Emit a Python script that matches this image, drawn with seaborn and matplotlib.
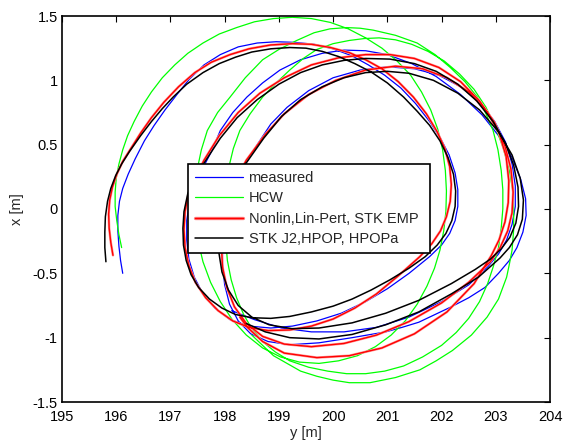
import numpy as np
import pandas as pd
import matplotlib
matplotlib.use("Agg")
import matplotlib.pyplot as plt
import matplotlib.patheffects as pe
import seaborn as sns

# Relative trajectories as (y [m], x [m]) pairs; each starts on the left and spirals clockwise
measured = np.array([
    (196.12,-0.50),(196.08,-0.40),(196.05,-0.29),(196.03,-0.17),(196.03,-0.05),(196.06,0.06),
    (196.12,0.16),(196.22,0.27),(196.35,0.39),(196.52,0.53),(196.70,0.65),(196.90,0.77),
    (197.12,0.89),(197.35,1.01),(197.62,1.12),(197.92,1.20),(198.25,1.26),(198.60,1.29),
    (198.95,1.30),(199.30,1.295),(199.65,1.28),(200.00,1.245),(200.35,1.19),(200.65,1.12),
    (200.95,1.04),(201.25,0.94),(201.52,0.82),(201.78,0.68),(201.98,0.55),(202.14,0.42),
    (202.25,0.28),(202.30,0.15),(202.30,0.02),(202.25,-0.09),(202.15,-0.19),(202.00,-0.28),
    (201.78,-0.37),(201.40,-0.50),(201.00,-0.62),(200.60,-0.72),(200.15,-0.81),(199.70,-0.87),
    (199.25,-0.91),(198.85,-0.925),(198.45,-0.91),(198.10,-0.86),(197.82,-0.77),(197.60,-0.66),
    (197.44,-0.53),(197.34,-0.39),(197.30,-0.24),(197.30,-0.09),(197.35,0.05),(197.45,0.18),
    (197.60,0.32),(197.76,0.45),(197.92,0.61),(198.15,0.75),(198.41,0.87),(198.70,0.98),
    (199.02,1.08),(199.40,1.16),(199.80,1.21),(200.20,1.235),(200.60,1.23),(201.00,1.20),
    (201.45,1.13),(201.90,1.03),(202.35,0.89),(202.75,0.73),(203.07,0.56),(203.30,0.40),
    (203.46,0.23),(203.55,0.08),(203.56,-0.05),(203.50,-0.18),(203.39,-0.30),(203.25,-0.40),
    (203.05,-0.50),(202.80,-0.61),(202.50,-0.69),(202.18,-0.76),(201.88,-0.82),(201.58,-0.88),
    (201.27,-0.92),(200.97,-0.955),(200.35,-1.00),(199.74,-1.04),
    (199.20,-1.055),(198.80,-1.03),(198.48,-0.97),(198.25,-0.87),(198.09,-0.74),(198.00,-0.59),
    (197.96,-0.43),(197.96,-0.26),(198.00,-0.10),(198.08,0.06),(198.20,0.20),(198.35,0.33),
    (198.60,0.50),(198.85,0.66),(199.15,0.79),(199.55,0.92),(200.00,1.02),(200.50,1.08),
    (201.00,1.105),(201.50,1.09),(201.95,1.04),(202.35,0.95),(202.70,0.83),(202.98,0.68),
    (203.18,0.52),(203.30,0.35),(203.36,0.18),(203.36,0.02),(203.30,-0.12),(203.20,-0.24),
    (203.05,-0.35),(202.85,-0.45),(202.50,-0.59),(202.00,-0.72),(201.40,-0.84),(200.80,-0.92),
    (200.20,-0.955),(199.60,-0.955),(199.05,-0.925),(198.55,-0.86),(198.13,-0.79),
])

hcw = np.array([
    (196.10,-0.30),(196.05,-0.20),(196.01,-0.09),(195.98,0.02),(195.98,0.13),(196.00,0.24),
    (196.05,0.35),(196.12,0.46),(196.21,0.57),(196.33,0.68),(196.48,0.80),(196.65,0.91),
    (196.85,1.02),(197.08,1.12),(197.32,1.21),(197.60,1.29),(197.90,1.36),(198.22,1.41),
    (198.55,1.455),(198.90,1.48),(199.25,1.49),(199.60,1.48),(199.95,1.45),(200.28,1.40),
    (200.60,1.33),(200.90,1.25),(201.18,1.15),(201.43,1.04),(201.63,0.91),(201.80,0.77),
    (201.93,0.62),(202.02,0.46),(202.07,0.30),(202.09,0.14),(202.08,-0.02),(202.04,-0.17),
    (201.97,-0.32),(201.87,-0.46),(201.73,-0.60),(201.55,-0.74),(201.33,-0.87),(201.07,-0.98),
    (200.78,-1.07),(200.45,-1.14),(200.10,-1.18),(199.74,-1.20),(199.38,-1.19),(199.03,-1.15),
    (198.70,-1.08),(198.40,-0.98),(198.14,-0.86),(197.92,-0.72),(197.74,-0.57),(197.60,-0.41),
    (197.51,-0.25),(197.46,-0.08),(197.45,0.10),(197.49,0.30),(197.57,0.46),(197.68,0.61),
    (197.87,0.75),(198.10,0.87),(198.38,1.02),(198.70,1.16),(199.00,1.24),(199.33,1.31),
    (199.65,1.37),(199.94,1.40),(200.25,1.41),(200.50,1.405),(200.74,1.39),(201.15,1.35),
    (201.55,1.29),(201.88,1.20),(202.16,1.10),(202.43,0.99),(202.66,0.87),(202.82,0.74),
    (202.95,0.61),(203.04,0.46),(203.10,0.30),(203.13,0.15),(203.13,0.00),(203.10,-0.15),
    (203.05,-0.30),(202.96,-0.44),(202.85,-0.58),(202.70,-0.72),(202.50,-0.85),(202.27,-0.96),
    (202.00,-1.06),(201.65,-1.15),(201.30,-1.22),(200.95,-1.26),(200.60,-1.28),(200.25,-1.28),
    (199.90,-1.26),(199.55,-1.23),(199.20,-1.18),(198.93,-1.11),(198.70,-1.03),(198.50,-0.93),
    (198.35,-0.82),(198.22,-0.69),(198.12,-0.55),(198.05,-0.40),(198.02,-0.25),(198.01,-0.10),
    (198.01,0.05),(198.04,0.19),(198.08,0.33),(198.16,0.47),(198.28,0.61),(198.47,0.74),
    (198.70,0.87),(198.95,0.98),(199.20,1.08),(199.45,1.17),(199.70,1.24),(200.00,1.285),
    (200.30,1.31),(200.58,1.325),(200.85,1.33),(201.15,1.315),(201.45,1.28),(201.75,1.225),
    (202.05,1.15),(202.33,1.05),(202.60,0.93),(202.82,0.79),(203.00,0.63),(203.14,0.47),
    (203.25,0.30),(203.31,0.15),(203.33,0.00),(203.33,-0.16),(203.30,-0.32),(203.25,-0.43),
    (203.20,-0.53),(203.05,-0.70),(202.84,-0.84),(202.55,-0.98),(202.20,-1.10),(201.90,-1.18),
    (201.60,-1.25),(201.15,-1.31),(200.68,-1.35),(200.30,-1.35),(200.00,-1.33),(199.70,-1.30),
    (199.40,-1.26),(199.15,-1.20),(198.90,-1.14),(198.70,-1.06),(198.50,-0.98),
])

nonlin = np.array([
    (195.94,-0.36),(195.90,-0.26),(195.87,-0.15),(195.86,-0.04),(195.88,0.07),(195.93,0.17),
    (196.01,0.27),(196.12,0.37),(196.27,0.47),(196.45,0.59),(196.65,0.71),(196.88,0.83),
    (197.15,0.95),(197.45,1.06),(197.75,1.14),(198.10,1.20),(198.45,1.245),(198.85,1.275),
    (199.25,1.285),(199.60,1.28),(199.95,1.255),(200.30,1.215),(200.60,1.16),(200.90,1.09),
    (201.20,0.99),(201.48,0.87),(201.72,0.74),(201.92,0.60),(202.06,0.47),(202.15,0.33),
    (202.18,0.19),(202.16,0.06),(202.09,-0.06),(201.98,-0.17),(201.82,-0.27),(201.60,-0.37),
    (201.20,-0.52),(200.80,-0.66),(200.40,-0.77),(200.00,-0.855),(199.60,-0.91),(199.20,-0.94),
    (198.80,-0.945),(198.45,-0.92),(198.15,-0.87),(197.88,-0.79),(197.65,-0.69),(197.46,-0.57),
    (197.34,-0.44),(197.27,-0.30),(197.25,-0.16),(197.27,-0.02),(197.33,0.11),(197.44,0.23),
    (197.62,0.38),(197.90,0.57),(198.25,0.75),(198.65,0.90),(199.10,1.02),(199.60,1.12),
    (200.10,1.175),(200.60,1.20),(201.05,1.20),(201.50,1.17),(201.95,1.10),(202.35,0.99),
    (202.70,0.84),(202.98,0.67),(203.17,0.49),(203.28,0.31),(203.32,0.13),(203.30,-0.03),
    (203.22,-0.17),(203.08,-0.30),(202.90,-0.41),(202.50,-0.57),(202.00,-0.73),(201.40,-0.875),
    (200.80,-0.98),(200.20,-1.045),(199.60,-1.07),(199.10,-1.05),(198.70,-0.99),(198.40,-0.89),
    (198.18,-0.76),(198.04,-0.61),(197.96,-0.45),(197.94,-0.28),(197.95,-0.10),(198.02,0.06),
    (198.15,0.19),(198.40,0.38),(198.75,0.58),(199.10,0.74),(199.55,0.89),(200.05,1.00),
    (200.60,1.08),(201.15,1.11),(201.65,1.09),(202.10,1.02),(202.50,0.91),(202.83,0.76),
    (203.06,0.59),(203.19,0.41),(203.24,0.22),(203.23,0.05),(203.17,-0.10),(203.06,-0.24),
    (202.92,-0.36),(202.60,-0.58),(202.10,-0.80),(201.50,-0.97),(200.90,-1.08),(200.30,-1.14),
    (199.70,-1.155),(199.10,-1.12),(198.70,-1.03),(198.42,-0.92),(198.28,-0.84),
])

stk_j2 = np.array([
    (195.81,-0.41),(195.79,-0.30),(195.79,-0.18),(195.80,-0.06),(195.84,0.06),(195.90,0.16),
    (195.99,0.26),(196.10,0.35),(196.25,0.45),(196.45,0.57),(196.65,0.68),(196.85,0.78),
    (197.05,0.87),(197.30,0.97),(197.60,1.06),(197.90,1.13),(198.20,1.18),(198.50,1.22),
    (198.85,1.245),(199.20,1.255),(199.50,1.25),(199.80,1.225),(200.10,1.185),(200.40,1.13),
    (200.70,1.065),(201.00,0.98),(201.30,0.87),(201.55,0.76),(201.78,0.65),(201.97,0.53),
    (202.12,0.40),(202.22,0.27),(202.26,0.14),(202.25,0.02),(202.19,-0.09),(202.08,-0.19),
    (201.92,-0.28),(201.70,-0.37),(201.40,-0.46),(201.05,-0.55),(200.70,-0.63),(200.35,-0.70),
    (200.00,-0.755),(199.60,-0.80),(199.20,-0.835),(198.85,-0.85),(198.50,-0.845),(198.20,-0.82),
    (197.95,-0.77),(197.72,-0.70),(197.52,-0.61),(197.38,-0.51),(197.29,-0.40),(197.24,-0.28),
    (197.23,-0.15),(197.25,-0.02),(197.32,0.12),(197.45,0.25),(197.64,0.37),(197.92,0.55),
    (198.23,0.71),(198.60,0.85),(199.00,0.97),(199.40,1.06),(199.80,1.12),(200.20,1.155),
    (200.60,1.17),(201.05,1.165),(201.50,1.13),(201.90,1.07),(202.30,0.97),(202.65,0.84),
    (202.95,0.68),(203.18,0.51),(203.33,0.34),(203.41,0.17),(203.42,0.02),(203.37,-0.11),
    (203.26,-0.22),(203.10,-0.31),(202.90,-0.39),(202.62,-0.47),(202.18,-0.58),(201.58,-0.71),
    (200.97,-0.81),(200.35,-0.885),(199.74,-0.925),(199.24,-0.93),(198.82,-0.90),(198.50,-0.84),
    (198.25,-0.75),(198.07,-0.63),(197.95,-0.49),(197.89,-0.33),(197.88,-0.15),(197.92,0.02),
    (198.05,0.17),(198.20,0.27),(198.41,0.365),(198.72,0.55),(199.05,0.72),(199.40,0.85),
    (199.80,0.95),(200.20,1.02),(200.60,1.06),(201.00,1.07),(201.40,1.055),(201.85,1.00),
    (202.30,0.90),(202.70,0.77),(203.05,0.60),(203.30,0.42),(203.45,0.24),(203.51,0.07),
    (203.49,-0.08),(203.40,-0.20),(203.25,-0.30),(203.08,-0.38),(202.68,-0.53),(202.18,-0.66),
    (201.58,-0.80),(200.97,-0.90),(200.35,-0.975),(199.74,-1.01),(199.20,-1.00),(198.75,-0.955),
    (198.40,-0.89),
])

series_labels = ["measured", "HCW", "Nonlin,Lin-Pert, STK EMP", "STK J2,HPOP, HPOPa"]
series_data = [measured, hcw, nonlin, stk_j2]
series_colors = ["#0000ff", "#00ff00", "#ff0000", "#000000"]
series_widths = [0.9, 0.9, 1.0, 1.1]

x_ticks = [195, 196, 197, 198, 199, 200, 201, 202, 203, 204]
y_ticks = [-1.5, -1, -0.5, 0, 0.5, 1, 1.5]
y_tick_labels = ["-1.5", "-1", "-0.5", "0", "0.5", "1", "1.5"]

sns.set_style("white")
plt.rcParams["font.family"] = ["Liberation Sans", "DejaVu Sans"]
plt.rcParams["axes.unicode_minus"] = False

fig = plt.figure(figsize=(5.65, 4.45), dpi=100)
ax = fig.add_axes([62 / 565, 43 / 445, 488 / 565, 386 / 445])

for data, lab, col, lw in zip(series_data, series_labels, series_colors, series_widths):
    df = pd.DataFrame({"y": data[:, 0], "x": data[:, 1]})
    sns.lineplot(data=df, x="y", y="x", sort=False, estimator=None,
                 color=col, linewidth=lw, label=lab, ax=ax)

# the three near-coincident red solutions read as a red core with a pink fringe
red_line = ax.get_lines()[2]
red_line.set_path_effects([pe.Stroke(linewidth=1.8, foreground="#ff9a9a"), pe.Normal()])

ax.set_xlim(195, 204)
ax.set_ylim(-1.5, 1.5)
ax.set_xticks(x_ticks)
ax.set_xticklabels([str(t) for t in x_ticks])
ax.set_yticks(y_ticks)
ax.set_yticklabels(y_tick_labels)
ax.tick_params(direction="in", length=4, width=0.8, top=True, right=True,
               labelsize=10.5, colors="black")
ax.tick_params(axis="x", pad=5.5)
ax.tick_params(axis="y", pad=3)
for sp in ax.spines.values():
    sp.set_visible(True)
    sp.set_color("black")
    sp.set_linewidth(1.2)

ax.set_xlabel("y [m]", fontsize=10.5, labelpad=2)
ax.set_ylabel("x [m]", fontsize=10.5, labelpad=6)

leg = ax.legend(loc="lower left", bbox_to_anchor=(126 / 488, 149 / 386, 242 / 488, 90 / 386),
                mode="expand", borderaxespad=0, fancybox=False, framealpha=1,
                edgecolor="black", fontsize=10.5, handlelength=3.3, handletextpad=0.4,
                labelspacing=0.45, borderpad=0.45)
leg.get_frame().set_linewidth(1.2)
leg.get_lines()[2].set_path_effects([pe.Stroke(linewidth=2.4, foreground="#ff8080"), pe.Normal()])

fig.savefig("out.png", dpi=100, facecolor="white")
